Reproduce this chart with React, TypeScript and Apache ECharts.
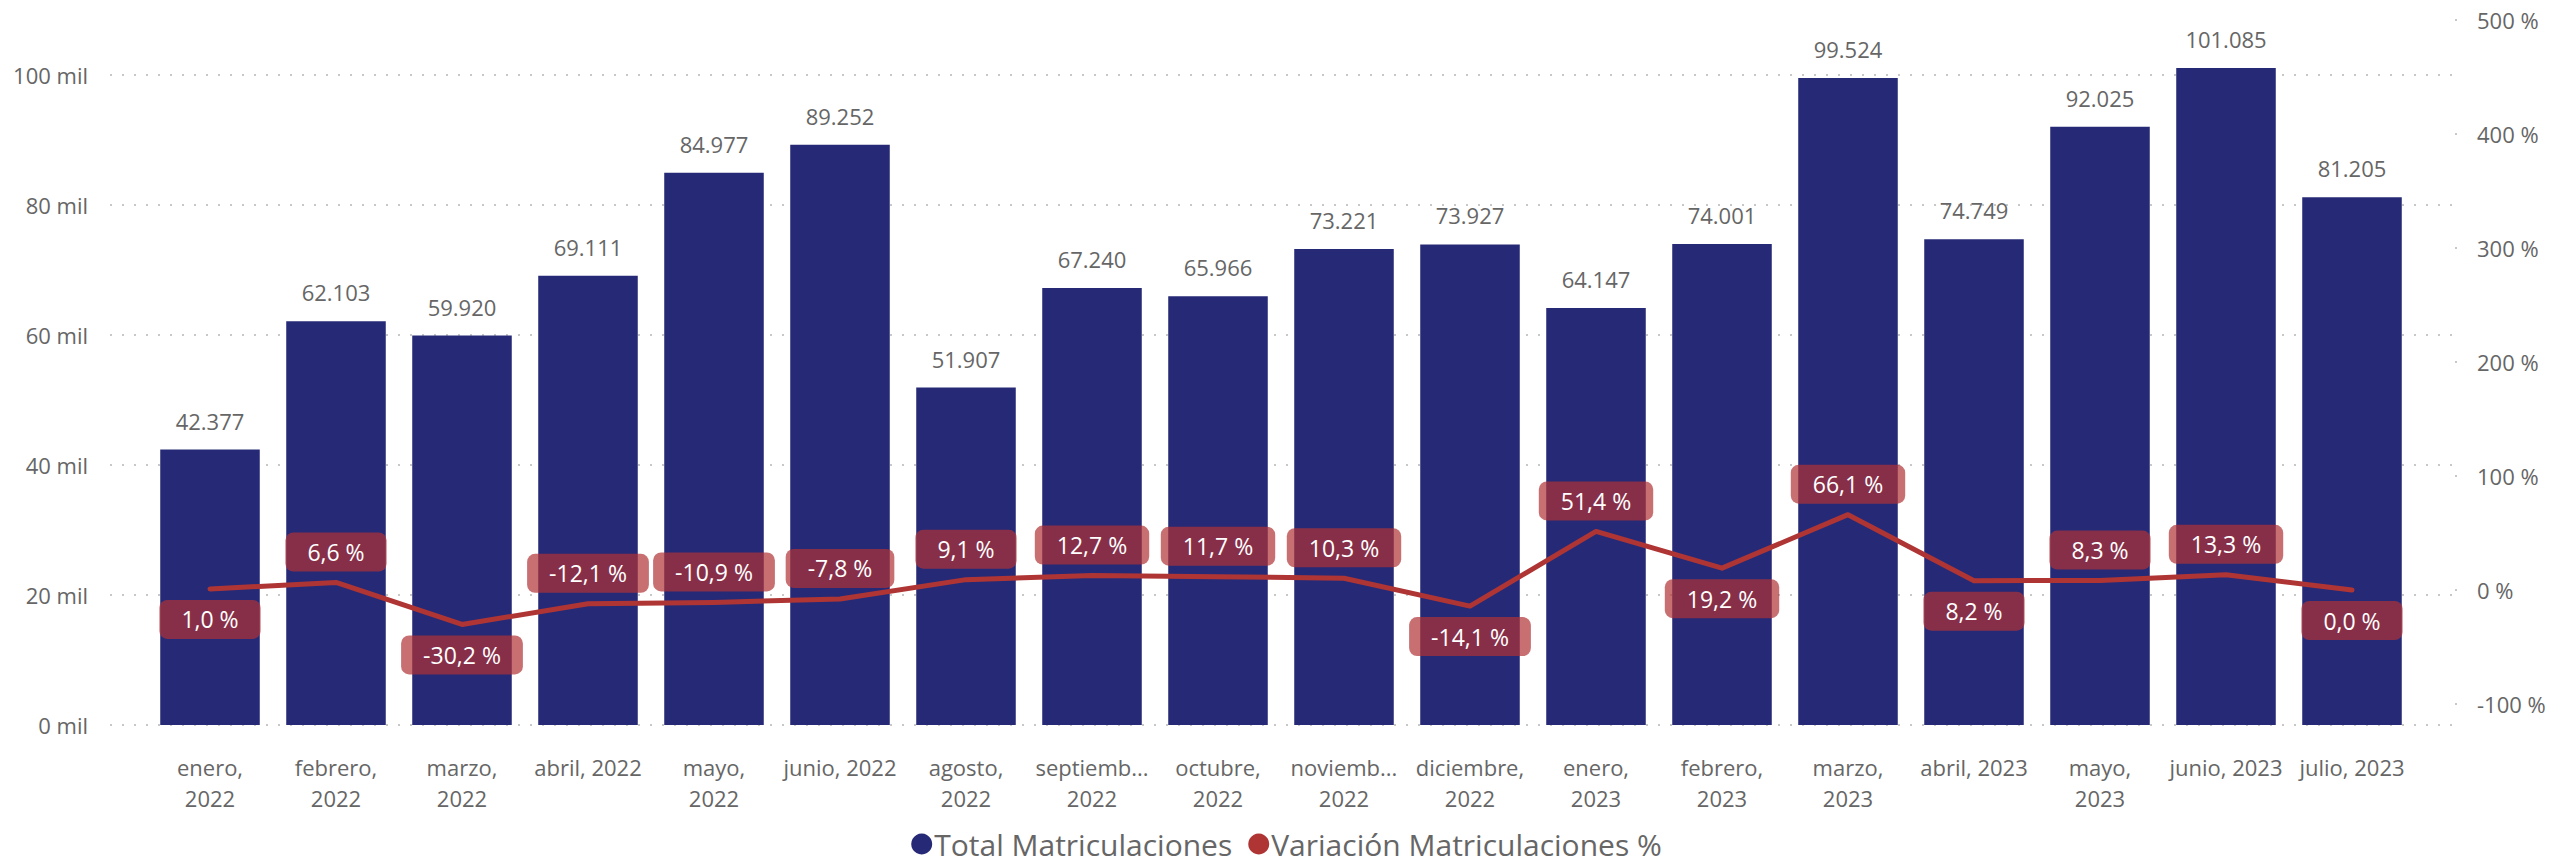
import React, { useEffect, useRef } from "react";
import * as echarts from "echarts";

const categories = [
  "enero,\n2022", "febrero,\n2022", "marzo,\n2022", "abril, 2022", "mayo,\n2022", "junio, 2022",
  "agosto,\n2022", "septiemb...\n2022", "octubre,\n2022", "noviemb...\n2022", "diciembre,\n2022",
  "enero,\n2023", "febrero,\n2023", "marzo,\n2023", "abril, 2023", "mayo,\n2023", "junio, 2023", "julio, 2023",
];
const totalMatriculaciones = [
  42377, 62103, 59920, 69111, 84977, 89252, 51907, 67240, 65966, 73221, 73927,
  64147, 74001, 99524, 74749, 92025, 101085, 81205,
];
const variacionPct = [
  1.0, 6.6, -30.2, -12.1, -10.9, -7.8, 9.1, 12.7, 11.7, 10.3, -14.1,
  51.4, 19.2, 66.1, 8.2, 8.3, 13.3, 0.0,
];
const variacionLabelPos = [
  "bottom", "top", "bottom", "top", "top", "top", "top", "top", "top", "top", "bottom",
  "top", "bottom", "top", "bottom", "top", "top", "bottom",
];
const leftTicks = [0, 20000, 40000, 60000, 80000, 100000];
const rightTicks = [-100, 0, 100, 200, 300, 400, 500];

const FONT = "'Segoe UI', 'Open Sans', sans-serif";
const BAR = "#262A76";
const LINE = "#AF3535";
const TXT = "#666666";

const W = 2573;
const H = 868;
const BOTTOM = 143;
const TOP = 20;
const PX_PER_UNIT = 0.0065;
const LEFT_MAX = (H - BOTTOM - TOP) / PX_PER_UNIT;
const BG_TOP = H - BOTTOM - 100000 * PX_PER_UNIT;

const fmtThousands = (v: number) => String(Math.round(v)).replace(/\B(?=(\d{3})+(?!\d))/g, ".");
const fmtPct = (v: number) => v.toFixed(1).replace(".", ",") + " %";

export default function App() {
  const ref = useRef<HTMLDivElement>(null);
  useEffect(() => {
    if (!ref.current) return;
    const chart = echarts.init(ref.current, null, { renderer: "svg" });
    chart.setOption({
      animation: false,
      backgroundColor: "#ffffff",
      textStyle: { fontFamily: FONT },
      legend: {
        bottom: 4,
        left: "center",
        icon: "circle",
        itemWidth: 21,
        itemHeight: 21,
        itemGap: 16,
        textStyle: { fontFamily: FONT, fontSize: 30, color: TXT, padding: [0, 0, 0, -3] },
        data: [
          { name: "Total Matriculaciones", itemStyle: { color: BAR } },
          { name: "Variación Matriculaciones %", itemStyle: { color: LINE } },
        ],
      },
      grid: [
        { left: 110, right: 121, top: BG_TOP, bottom: BOTTOM },
        { left: 147, right: 158, top: TOP, bottom: BOTTOM },
      ],
      xAxis: [
        { type: "category", gridIndex: 0, data: categories, show: false },
        {
          type: "category",
          gridIndex: 1,
          data: categories,
          axisLine: { show: false },
          axisTick: { show: false },
          axisLabel: {
            interval: 0,
            margin: 26,
            fontSize: 22,
            lineHeight: 31,
            color: TXT,
            fontFamily: FONT,
          },
        },
      ],
      yAxis: [
        {
          type: "value",
          gridIndex: 0,
          min: 0,
          max: 100000,
          interval: 20000,
          axisLine: { show: false },
          axisTick: { show: false },
          axisLabel: {
            margin: 22,
            fontSize: 22,
            color: TXT,
            fontFamily: FONT,
            customValues: leftTicks,
            formatter: (v: number) => `${v / 1000} mil`,
          },
          splitLine: {
            show: true,
            lineStyle: { color: "#C8C8C8", width: 2, type: [2, 10] },
          },
        },
        {
          type: "value",
          gridIndex: 1,
          min: 0,
          max: LEFT_MAX,
          show: false,
          splitLine: { show: false },
        },
        {
          type: "value",
          gridIndex: 1,
          position: "right",
          min: -118.4,
          max: 500,
          axisLine: { show: false },
          splitLine: { show: false },
          axisTick: {
            show: true,
            length: 42,
            customValues: rightTicks,
            lineStyle: { color: "#C8C8C8", width: 2, type: [2, 100], dashOffset: 62 },
          },
          axisLabel: {
            margin: 62,
            fontSize: 22,
            color: TXT,
            fontFamily: FONT,
            customValues: rightTicks,
            formatter: (v: number) => `${v} %`,
          },
        },
      ],
      series: [
        {
          name: "Total Matriculaciones",
          type: "bar",
          xAxisIndex: 1,
          yAxisIndex: 1,
          data: totalMatriculaciones,
          barCategoryGap: "21%",
          itemStyle: { color: BAR },
          label: {
            show: true,
            position: "top",
            distance: 18,
            fontSize: 22,
            lineHeight: 22,
            color: TXT,
            fontFamily: FONT,
            formatter: (p: any) => fmtThousands(p.value),
          },
          z: 2,
        },
        {
          name: "Variación Matriculaciones %",
          type: "line",
          xAxisIndex: 1,
          yAxisIndex: 2,
          showSymbol: true,
          symbol: "circle",
          symbolSize: 0,
          lineStyle: { color: LINE, width: 5, cap: "round", join: "round" },
          itemStyle: { color: LINE },
          data: variacionPct.map((v, i) => ({
            value: v,
            label: { position: variacionLabelPos[i] },
          })),
          label: {
            show: true,
            distance: 11,
            fontSize: 23,
            lineHeight: 25,
            color: "#ffffff",
            fontFamily: FONT,
            backgroundColor: "rgba(176,50,52,0.7)",
            borderRadius: 8,
            padding: [7, 22],
            formatter: (p: any) => fmtPct(p.value),
          },
          z: 3,
        },
      ],
    });
    return () => chart.dispose();
  }, []);
  return (
    <div
      ref={ref}
      style={{ position: "fixed", left: 0, top: 0, width: W, height: H, background: "#fff" }}
    />
  );
}
